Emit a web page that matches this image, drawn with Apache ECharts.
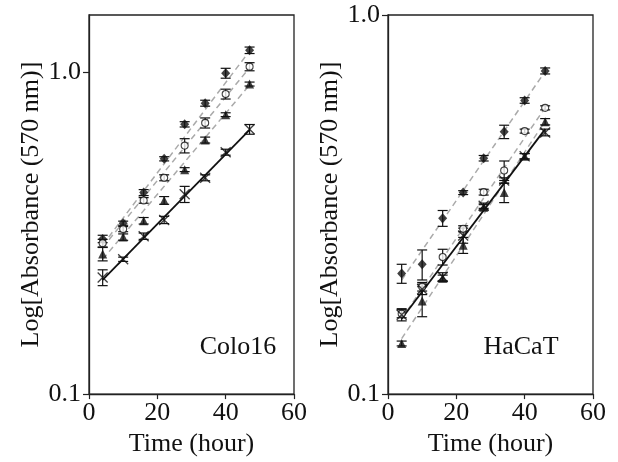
<!DOCTYPE html>
<html>
<head>
<meta charset="utf-8">
<script src="https://cdn.jsdelivr.net/npm/echarts@6/dist/echarts.min.js"></script>
<style>
html,body{margin:0;padding:0;background:#fff;}
#chart{width:618px;height:462px;}
</style>
</head>
<body>
<div id="chart"></div>
<script>
// ---------- data ----------
const timesColo = [4, 10, 16, 22, 28, 34, 40, 47];
const coloDiamond = [0.303, 0.339, 0.422, 0.537, 0.687, 0.799, 0.990, 1.166];
const coloCircle = [0.294, 0.325, 0.399, 0.469, 0.590, 0.694, 0.853, 1.037];
const coloTriangle = [0.272, 0.307, 0.345, 0.399, 0.497, 0.614, 0.736, 0.916];
const coloCross = [0.230, 0.262, 0.309, 0.347, 0.417, 0.469, 0.563, 0.663];
const coloDiamondErr = [0.008, 0.005, 0.009, 0.008, 0.013, 0.017, 0.035, 0.027];
const coloCircleErr = [0.008, 0.006, 0.008, 0.010, 0.030, 0.025, 0.030, 0.030];
const coloTriangleErr = [0.013, 0.007, 0.008, 0.011, 0.007, 0.013, 0.010, 0.013];
const coloCrossErr = [0.013, 0.004, 0.007, 0.009, 0.024, 0.010, 0.012, 0.023];
const coloFitX = [4, 47];
const coloFitDiamond = [0.29, 1.16];
const coloFitCircle = [0.285, 1.03];
const coloFitTriangle = [0.262, 0.91];
const coloFitCross = [0.226, 0.66];

const timesHacat = [4, 10, 16, 22, 28, 34, 40, 46];
const hacatDiamond = [0.208, 0.220, 0.291, 0.340, 0.419, 0.492, 0.595, 0.712];
const hacatCircle = [0.163, 0.192, 0.230, 0.273, 0.341, 0.389, 0.494, 0.569];
const hacatTriangle = [0.136, 0.176, 0.202, 0.247, 0.311, 0.340, 0.424, 0.523];
const hacatCross = [0.162, 0.189, 0.204, 0.262, 0.314, 0.366, 0.424, 0.490];
const hacatDiamondErr = [0.012, 0.020, 0.014, 0.004, 0.007, 0.020, 0.010, 0.013];
const hacatCircleErr = [0.004, 0.005, 0.011, 0.005, 0.006, 0.023, 0.006, 0.007];
const hacatTriangleErr = [0.002, 0.016, 0.004, 0.012, 0.005, 0.020, 0.007, 0.010];
const hacatCrossErr = [0.006, 0.006, 0.005, 0.012, 0.005, 0.006, 0.007, 0.010];
const hacatFitX = [4, 46];
const hacatFitDiamond = [0.20, 0.71];
const hacatFitCircle = [0.158, 0.57];
const hacatFitTriangle = [0.14, 0.525];
const hacatFitCross = [0.158, 0.50];

const yTicks = [0.1, 1.0];
const panelNames = ['Colo16', 'HaCaT'];

// ---------- helpers ----------
const FONT = '"Liberation Serif", "Times New Roman", serif';
const FS = 26;
const crossPath = 'path://M0,0L10,10M10,0L0,10';

function pairs(xs, ys) { return xs.map((x, i) => [x, ys[i]]); }
function triples(xs, ys, es) { return xs.map((x, i) => [x, ys[i], es[i]]); }

function errSeries(idx, xs, ys, es) {
  return {
    type: 'custom', xAxisIndex: idx, yAxisIndex: idx, z: 3,
    data: triples(xs, ys, es),
    renderItem: function (params, api) {
      const x = api.value(0), v = api.value(1), e = api.value(2);
      const lo = api.coord([x, v - e]);
      const hi = api.coord([x, v + e]);
      const w = 5;
      const st = { stroke: '#111', lineWidth: 1.2 };
      return { type: 'group', children: [
        { type: 'line', shape: { x1: lo[0], y1: lo[1], x2: hi[0], y2: hi[1] }, style: st },
        { type: 'line', shape: { x1: lo[0] - w, y1: lo[1], x2: lo[0] + w, y2: lo[1] }, style: st },
        { type: 'line', shape: { x1: hi[0] - w, y1: hi[1], x2: hi[0] + w, y2: hi[1] }, style: st }
      ]};
    }
  };
}
function fitSeries(idx, xs, ys, solid) {
  return {
    type: 'line', xAxisIndex: idx, yAxisIndex: idx, z: solid ? 2 : 1,
    data: pairs(xs, ys), symbol: 'none', silent: true,
    lineStyle: solid ? { color: '#111', width: 1.8 } : { color: '#aaa', width: 1.5, type: [6, 4] }
  };
}
function markSeries(idx, xs, ys, kind) {
  const s = { type: 'scatter', xAxisIndex: idx, yAxisIndex: idx, z: 4, data: pairs(xs, ys) };
  if (kind === 'diamond') { s.symbol = 'diamond'; s.symbolSize = [9, 10]; s.itemStyle = { color: '#111' }; }
  if (kind === 'circle') { s.symbol = 'circle'; s.symbolSize = 7; s.itemStyle = { color: '#fff', borderColor: '#111', borderWidth: 1.1 }; }
  if (kind === 'triangle') { s.symbol = 'triangle'; s.symbolSize = [9, 9]; s.itemStyle = { color: '#111' }; }
  if (kind === 'cross') { s.symbol = crossPath; s.symbolSize = 10; s.itemStyle = { color: 'none', borderColor: '#111', borderWidth: 1.3 }; }
  return s;
}

function xAxisCfg(idx) {
  return {
    type: 'value', gridIndex: idx, min: 0, max: 60, interval: 20,
    name: 'Time (hour)', nameLocation: 'middle', nameGap: 32,
    nameTextStyle: { fontFamily: FONT, fontSize: FS, color: '#111' },
    axisLine: { show: true, lineStyle: { color: '#222', width: 1.3 } },
    axisTick: { show: true, inside: false, length: 5, lineStyle: { color: '#222', width: 1.2 } },
    axisLabel: { fontFamily: FONT, fontSize: FS, color: '#111', margin: 6 },
    splitLine: { show: false }
  };
}
function yAxisCfg(idx, max) {
  return {
    type: 'log', logBase: 10, gridIndex: idx, min: 0.1, max: max,
    name: 'Log[Absorbance (570 nm)]', nameLocation: 'middle', nameGap: 44,
    nameTextStyle: { fontFamily: FONT, fontSize: FS, color: '#111' },
    axisLine: { show: true, lineStyle: { color: '#222', width: 1.3 } },
    axisTick: { show: true, inside: false, length: 6, customValues: yTicks, lineStyle: { color: '#222', width: 1.2 } },
    axisLabel: { fontFamily: FONT, fontSize: FS, color: '#111', margin: 8, customValues: yTicks,
      formatter: function (v) { return Math.abs(v - 1) < 1e-9 ? '1.0' : String(v); } },
    minorTick: { show: false }, splitLine: { show: false }
  };
}

const chart = echarts.init(document.getElementById('chart'), null, { renderer: 'canvas' });
chart.setOption({
  backgroundColor: '#fff',
  animation: false,
  grid: [
    { left: 89, top: 15, width: 205, height: 384, show: true, borderColor: '#222', borderWidth: 1.3, backgroundColor: 'transparent' },
    { left: 388, top: 15, width: 205, height: 384, show: true, borderColor: '#222', borderWidth: 1.3, backgroundColor: 'transparent' }
  ],
  xAxis: [xAxisCfg(0), xAxisCfg(1)],
  yAxis: [yAxisCfg(0, 1.5), yAxisCfg(1, 1.0)],
  graphic: [
    { type: 'text', x: 238, y: 347, style: { text: panelNames[0], font: FS + 'px ' + FONT, fill: '#111', textAlign: 'center', textVerticalAlign: 'middle' } },
    { type: 'text', x: 521, y: 347, style: { text: panelNames[1], font: FS + 'px ' + FONT, fill: '#111', textAlign: 'center', textVerticalAlign: 'middle' } }
  ],
  series: [
    fitSeries(0, coloFitX, coloFitDiamond, false),
    fitSeries(0, coloFitX, coloFitCircle, false),
    fitSeries(0, coloFitX, coloFitTriangle, false),
    fitSeries(0, coloFitX, coloFitCross, true),
    errSeries(0, timesColo, coloDiamond, coloDiamondErr),
    errSeries(0, timesColo, coloCircle, coloCircleErr),
    errSeries(0, timesColo, coloTriangle, coloTriangleErr),
    errSeries(0, timesColo, coloCross, coloCrossErr),
    markSeries(0, timesColo, coloDiamond, 'diamond'),
    markSeries(0, timesColo, coloCircle, 'circle'),
    markSeries(0, timesColo, coloTriangle, 'triangle'),
    markSeries(0, timesColo, coloCross, 'cross'),

    fitSeries(1, hacatFitX, hacatFitDiamond, false),
    fitSeries(1, hacatFitX, hacatFitCircle, false),
    fitSeries(1, hacatFitX, hacatFitTriangle, false),
    fitSeries(1, hacatFitX, hacatFitCross, true),
    errSeries(1, timesHacat, hacatDiamond, hacatDiamondErr),
    errSeries(1, timesHacat, hacatCircle, hacatCircleErr),
    errSeries(1, timesHacat, hacatTriangle, hacatTriangleErr),
    errSeries(1, timesHacat, hacatCross, hacatCrossErr),
    markSeries(1, timesHacat, hacatDiamond, 'diamond'),
    markSeries(1, timesHacat, hacatCircle, 'circle'),
    markSeries(1, timesHacat, hacatTriangle, 'triangle'),
    markSeries(1, timesHacat, hacatCross, 'cross')
  ]
});
</script>
</body>
</html>
